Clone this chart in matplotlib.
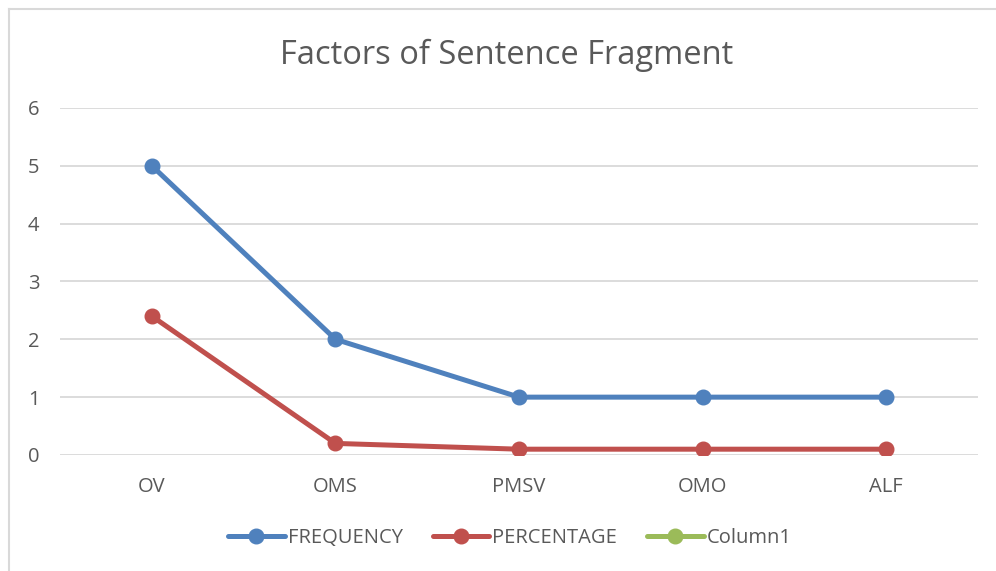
import numpy as np
import matplotlib.pyplot as plt
from matplotlib.lines import Line2D

# Data
categories = ['OV', 'OMS', 'PMSV', 'OMO', 'ALF']
frequency = [5, 2, 1, 1, 1]
percentage = [2.4, 0.2, 0.1, 0.1, 0.1]
column1 = []  # empty series, legend only

plt.rcParams['font.family'] = ['Open Sans', 'DejaVu Sans']
text_color = '#595959'
blue = '#4F81BD'
red = '#C0504D'
green = '#9BBB59'

fig = plt.figure(figsize=(9.96, 5.71), dpi=100)
ax = fig.add_axes([0.0603, 0.2032, 0.9217, 0.6077])

x = np.arange(len(categories))
ax.plot(x, frequency, color=blue, lw=3.6, marker='o', ms=10.5, solid_capstyle='round', zorder=3)
ax.plot(x, percentage, color=red, lw=3.6, marker='o', ms=10.5, solid_capstyle='round', zorder=3)

ax.set_xlim(-0.5, len(categories) - 0.5)
ax.set_ylim(0, 6)
ax.set_yticks(range(0, 7))
ax.set_xticks(x)
ax.set_xticklabels(categories)
ax.grid(axis='y', color='#D9D9D9', lw=1.3)
ax.set_axisbelow(True)
for s in ax.spines.values():
    s.set_visible(False)
ax.tick_params(length=0, colors=text_color, labelsize=14.5)
ax.tick_params(axis='x', pad=16)
ax.tick_params(axis='y', pad=23)
for lab in ax.get_yticklabels():
    lab.set_horizontalalignment('left')

fig.text(0.509, 0.903, 'Factors of Sentence Fragment', ha='center', va='center',
         fontsize=23.5, color=text_color)

# outer chart border (cropped on right/bottom)
fig.add_artist(Line2D([0.009, 0.009], [0, 0.984], color='#D9D9D9', lw=1.5))
fig.add_artist(Line2D([0.009, 1.0], [0.984, 0.984], color='#D9D9D9', lw=1.5))

handles = [
    Line2D([], [], color=blue, lw=3.6, marker='o', ms=10.5, solid_capstyle='round'),
    Line2D([], [], color=red, lw=3.6, marker='o', ms=10.5, solid_capstyle='round'),
    Line2D([], [], color=green, lw=3.6, marker='o', ms=10.5, solid_capstyle='round'),
]
fig.legend(handles, ['FREQUENCY', 'PERCENTAGE', 'Column1'], loc='center',
           bbox_to_anchor=(0.512, 0.058), ncol=3, frameon=False,
           fontsize=14.5, labelcolor=text_color, handlelength=2.8,
           handletextpad=0.15, columnspacing=1.5)

fig.savefig('out.png', dpi=100)
